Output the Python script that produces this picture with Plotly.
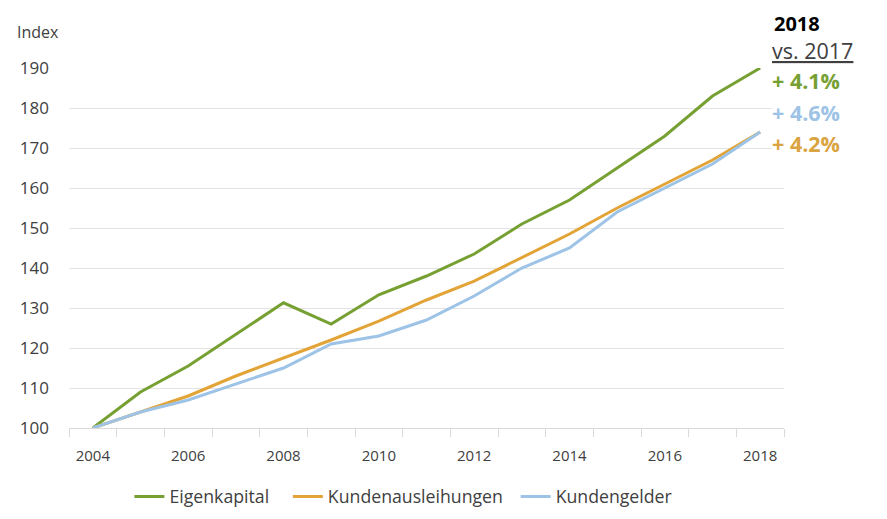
import plotly.graph_objects as go

years = list(range(2004, 2019))
eigenkapital = [100, 109, 115.5, 123.5, 131.3, 126, 133.3, 138, 143.5, 151, 157, 165, 173, 183, 190]
kundenausleihungen = [100, 104, 108, 113, 117.5, 122, 126.7, 132, 136.7, 142.5, 148.5, 155, 161, 167, 174]
kundengelder = [100, 104, 107, 111, 115, 121, 123, 127, 133, 140, 145, 154, 160, 166, 174]

names = ["Eigenkapital", "Kundenausleihungen", "Kundengelder"]
colors = ["#77A033", "#E3A437", "#9DC3E6"]
changes = ["+ 4.1%", "+ 4.6%", "+ 4.2%"]
change_colors = ["#77A033", "#9DC3E6", "#D9A441"]

font = "Open Sans"
L, T, R, B = 54, 60, 111, 97
PW, PH = 887 - L - R, 519 - T - B


def py(yfig):
    return 1.0 + (T - yfig) / PH


def px(xfig):
    return (xfig - L) / PW


legend_keys = ["legend", "legend2", "legend3"]
legend_x = [115, 275, 505]

fig = go.Figure()
for name, vals, col, lk in zip(names, [eigenkapital, kundenausleihungen, kundengelder], colors, legend_keys):
    fig.add_trace(go.Scatter(x=years, y=vals, mode="lines", name=name, legend=lk,
                             line=dict(color=col, width=3)))

layout_legends = {}
for lk, lx in zip(legend_keys, legend_x):
    layout_legends[lk] = dict(orientation="h", x=px(lx), xanchor="left", y=-0.14, yanchor="top",
                              font=dict(size=17.7, color="#404040"), itemwidth=30,
                              bgcolor="rgba(0,0,0,0)")

fig.update_layout(
    width=887, height=519,
    margin=dict(l=L, r=R, t=T, b=B),
    plot_bgcolor="white", paper_bgcolor="white",
    font=dict(family=font, size=14, color="#404040"),
    showlegend=True,
    xaxis=dict(range=[2003.5, 2018.5], tickmode="array", tickvals=years[::2],
               ticktext=[str(y) for y in years[::2]], ticks="", showgrid=False,
               showline=True, linecolor="#D9D9D9", linewidth=1, zeroline=False,
               minor=dict(tickmode="linear", tick0=2003.5, dtick=1, ticks="outside",
                          ticklen=8, tickcolor="#D9D9D9", showgrid=False),
               tickfont=dict(size=15, color="#404040"), ticklabelstandoff=14),
    yaxis=dict(range=[100, 190], tickmode="linear", tick0=100, dtick=10,
               showgrid=True, gridcolor="#E3E3E3", gridwidth=1, zeroline=False,
               showline=False, ticks="", tickfont=dict(size=17, color="#404040"),
               ticklabelstandoff=19),
    **layout_legends,
)

fig.add_annotation(text="Index", xref="paper", yref="paper", x=px(-1), y=py(24),
                   xanchor="left", yanchor="middle", showarrow=False,
                   font=dict(size=16, color="#404040"))
fig.add_annotation(text="<b>2018</b>", xref="paper", yref="paper", x=px(765), y=py(0.5),
                   xanchor="left", yanchor="top", showarrow=False, borderpad=0,
                   font=dict(size=20, color="#000000"))
fig.add_annotation(text="<u>vs. 2017</u>", xref="paper", yref="paper", x=px(763), y=py(42),
                   xanchor="left", yanchor="middle", showarrow=False, borderpad=0,
                   font=dict(size=21.5, color="#404040"))
for i, (t, c) in enumerate(zip(changes, change_colors)):
    fig.add_annotation(text="<b>" + t + "</b>", xref="paper", yref="paper",
                       x=px(763), y=py(73 + 31.5 * i),
                       xanchor="left", yanchor="middle", showarrow=False,
                       bgcolor="white", borderpad=0,
                       font=dict(size=21.5, color=c))

fig.write_html("out.html")
